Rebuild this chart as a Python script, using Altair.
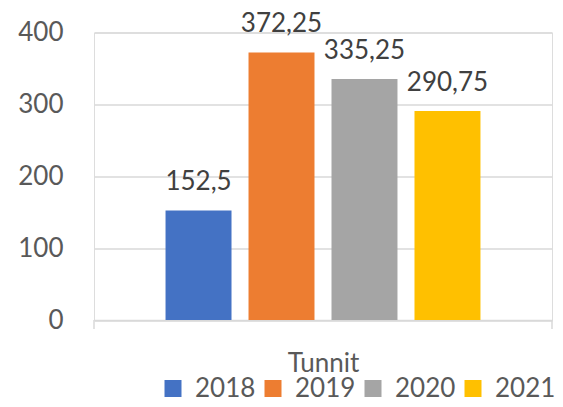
import altair as alt
import pandas as pd

years = ["2018", "2019", "2020", "2021"]
values = [152.5, 372.25, 335.25, 290.75]
labels = ["152,5", "372,25", "335,25", "290,75"]
colors = ["#4472C4", "#ED7D31", "#A5A5A5", "#FFC000"]
y_ticks = [0, 100, 200, 300, 400]
category = "Tunnit"

df = pd.DataFrame({"year": years, "value": values, "label": labels})

W, H = 458, 287.5
FONT = "Lato"

x = alt.X(
    "year:N",
    sort=years,
    scale=alt.Scale(paddingInner=0.205, paddingOuter=0.862),
    axis=alt.Axis(
        title=category,
        labels=False,
        ticks=False,
        domain=True,
        domainColor="#D9D9D9",
        domainWidth=1.5,
        titleFont=FONT,
        titleFontSize=26,
        titleFontWeight="normal",
        titleColor="#595959",
        titleX=W / 2,
        titleY=51,
        titleBaseline="alphabetic",
        titleAnchor="middle",
    ),
)

y = alt.Y(
    "value:Q",
    scale=alt.Scale(domain=[0, 400], nice=False),
    axis=alt.Axis(
        title=None,
        values=y_ticks,
        domain=False,
        ticks=False,
        grid=True,
        gridColor="#D9D9D9",
        gridWidth=1.5,
        labelFont=FONT,
        labelFontSize=26,
        labelColor="#595959",
        labelPadding=31,
    ),
)

color = alt.Color(
    "year:N",
    sort=years,
    scale=alt.Scale(domain=years, range=colors),
    legend=alt.Legend(
        title=None,
        orient="none",
        direction="horizontal",
        legendX=66,
        legendY=343,
        symbolType="square",
        symbolSize=289,
        symbolStrokeWidth=0,
        labelFont=FONT,
        labelFontSize=26,
        labelColor="#595959",
        labelOffset=9,
        columnPadding=4,
        labelLimit=200,
        padding=0,
    ),
)

bars = alt.Chart(df).mark_bar(opacity=1).encode(x=x, y=y, color=color)

text = alt.Chart(df).mark_text(
    font=FONT, fontSize=26, color="#404040", baseline="alphabetic", dy=-20
).encode(x=alt.X("year:N", sort=years), y="value:Q", text="label:N")

ticks_df = pd.DataFrame({"pos": [0, W]})
end_ticks = alt.Chart(ticks_df).mark_rule(color="#D9D9D9", strokeWidth=1.5).encode(
    x=alt.X("pos:Q", scale=None),
    y=alt.value(H),
    y2=alt.value(H + 9),
)

chart = (
    alt.layer(bars, text, end_ticks)
    .properties(
        width=W,
        height=H,
        autosize=alt.AutoSizeParams(type="none"),
        padding={"left": 86, "top": 24.5, "right": 3, "bottom": 79},
    )
    .configure_view(stroke=None)
    .configure(background="white")
)

chart.save("out.html", embed_options={"renderer": "svg", "actions": False})
